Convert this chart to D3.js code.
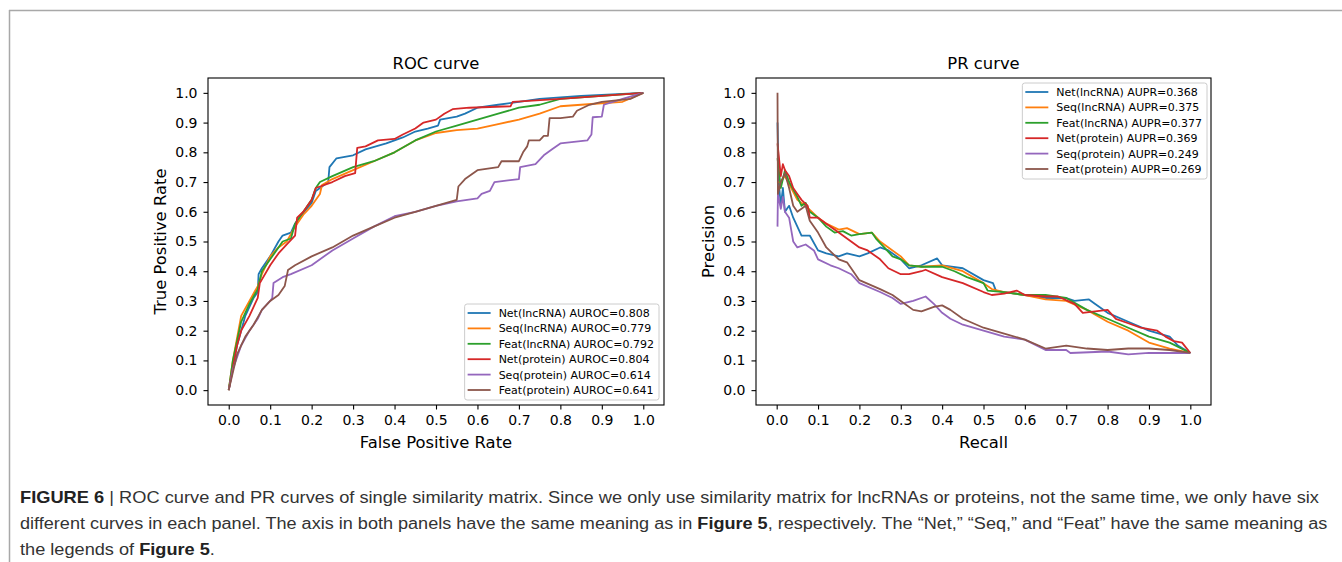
<!DOCTYPE html>
<html>
<head>
<meta charset="utf-8">
<script src="https://cdn.jsdelivr.net/npm/d3@7"></script>
<style>
  body { margin: 0; background: #fff; }
  svg { display: block; }
  .tick text { font-family: "DejaVu Sans", sans-serif; }
</style>
</head>
<body>
<div id="fig"></div>
<script>
// series labels and colours (matplotlib tab10)
const seriesNames = ["Net(lncRNA)", "Seq(lncRNA)", "Feat(lncRNA)", "Net(protein)", "Seq(protein)", "Feat(protein)"];
const seriesColors = ["#1f77b4", "#ff7f0e", "#2ca02c", "#d62728", "#9467bd", "#8c564b"];
const aurocValues = ["0.808", "0.779", "0.792", "0.804", "0.614", "0.641"];
const auprValues = ["0.368", "0.375", "0.377", "0.369", "0.249", "0.269"];
const tickValues = [0, 0.1, 0.2, 0.3, 0.4, 0.5, 0.6, 0.7, 0.8, 0.9, 1.0];

// ROC curves, [fpr, tpr]
const rocNetLnc = [[0,0],[0.01,0.08],[0.02,0.15],[0.03,0.2],[0.04,0.25],[0.05,0.28],[0.06,0.31],[0.07,0.33],[0.072,0.39],[0.08,0.41],[0.1,0.45],[0.12,0.5],[0.13,0.52],[0.15,0.53],[0.16,0.56],[0.17,0.58],[0.2,0.63],[0.21,0.67],[0.23,0.69],[0.24,0.7],[0.243,0.75],[0.26,0.78],[0.3,0.79],[0.33,0.81],[0.38,0.83],[0.42,0.85],[0.45,0.87],[0.48,0.88],[0.505,0.89],[0.51,0.91],[0.55,0.92],[0.57,0.93],[0.6,0.95],[0.65,0.96],[0.7,0.97],[0.75,0.98],[0.85,0.99],[1,1]];
const rocSeqLnc = [[0,0],[0.01,0.1],[0.03,0.25],[0.05,0.3],[0.07,0.35],[0.08,0.39],[0.1,0.45],[0.12,0.48],[0.14,0.5],[0.16,0.55],[0.18,0.59],[0.2,0.62],[0.22,0.66],[0.225,0.69],[0.25,0.71],[0.3,0.74],[0.35,0.77],[0.4,0.8],[0.45,0.84],[0.5,0.865],[0.55,0.875],[0.6,0.88],[0.65,0.895],[0.7,0.91],[0.75,0.93],[0.8,0.955],[0.9,0.965],[0.95,0.97],[1,1]];
const rocFeatLnc = [[0,0],[0.01,0.1],[0.03,0.23],[0.05,0.29],[0.07,0.34],[0.08,0.4],[0.1,0.44],[0.12,0.48],[0.13,0.5],[0.15,0.51],[0.16,0.56],[0.18,0.6],[0.2,0.64],[0.21,0.68],[0.22,0.7],[0.25,0.72],[0.3,0.75],[0.35,0.77],[0.4,0.8],[0.45,0.84],[0.5,0.87],[0.55,0.89],[0.6,0.91],[0.65,0.93],[0.7,0.95],[0.75,0.96],[0.8,0.98],[0.9,0.99],[1,1]];
const rocNetProt = [[0,0],[0.02,0.15],[0.03,0.2],[0.05,0.25],[0.06,0.28],[0.07,0.31],[0.075,0.36],[0.1,0.42],[0.12,0.46],[0.14,0.49],[0.16,0.52],[0.165,0.58],[0.18,0.6],[0.2,0.64],[0.21,0.68],[0.25,0.7],[0.28,0.72],[0.305,0.73],[0.31,0.815],[0.33,0.82],[0.36,0.84],[0.4,0.845],[0.42,0.86],[0.45,0.88],[0.47,0.9],[0.5,0.91],[0.52,0.93],[0.54,0.945],[0.58,0.95],[0.68,0.955],[0.685,0.97],[0.8,0.98],[0.9,0.99],[1,1]];
const rocSeqProt = [[0,0],[0.01,0.07],[0.03,0.15],[0.05,0.2],[0.07,0.24],[0.08,0.27],[0.1,0.3],[0.105,0.31],[0.108,0.36],[0.13,0.38],[0.15,0.39],[0.2,0.42],[0.25,0.47],[0.3,0.51],[0.35,0.55],[0.4,0.585],[0.45,0.6],[0.5,0.62],[0.55,0.635],[0.6,0.645],[0.61,0.66],[0.63,0.67],[0.641,0.7],[0.7,0.71],[0.703,0.75],[0.74,0.76],[0.76,0.79],[0.78,0.81],[0.8,0.83],[0.865,0.84],[0.875,0.86],[0.878,0.918],[0.9,0.92],[0.905,0.96],[0.95,0.98],[1,1]];
const rocFeatProt = [[0,0],[0.02,0.12],[0.04,0.18],[0.06,0.22],[0.08,0.27],[0.1,0.3],[0.12,0.32],[0.135,0.35],[0.143,0.404],[0.16,0.42],[0.2,0.45],[0.25,0.48],[0.3,0.52],[0.35,0.55],[0.4,0.58],[0.45,0.6],[0.5,0.62],[0.55,0.64],[0.554,0.685],[0.57,0.71],[0.6,0.74],[0.65,0.75],[0.658,0.77],[0.7,0.77],[0.71,0.8],[0.72,0.82],[0.724,0.84],[0.75,0.84],[0.76,0.855],[0.77,0.855],[0.774,0.915],[0.8,0.915],[0.83,0.92],[0.84,0.94],[0.87,0.96],[0.9,0.97],[0.97,0.98],[1,1]];

// PR curves, [recall, precision]
const prNetLnc = [[0.002,0.9],[0.005,0.7],[0.01,0.62],[0.015,0.68],[0.02,0.6],[0.03,0.62],[0.04,0.58],[0.05,0.55],[0.06,0.52],[0.08,0.52],[0.1,0.47],[0.12,0.46],[0.15,0.45],[0.17,0.46],[0.2,0.45],[0.22,0.46],[0.25,0.48],[0.27,0.47],[0.3,0.44],[0.32,0.41],[0.35,0.42],[0.388,0.443],[0.4,0.42],[0.45,0.41],[0.5,0.37],[0.523,0.36],[0.53,0.335],[0.55,0.33],[0.6,0.32],[0.65,0.31],[0.7,0.31],[0.72,0.3],[0.755,0.305],[0.77,0.29],[0.8,0.26],[0.85,0.23],[0.9,0.2],[0.95,0.18],[0.97,0.15],[1,0.125]];
const prSeqLnc = [[0.002,0.7],[0.01,0.7],[0.02,0.72],[0.05,0.64],[0.07,0.62],[0.1,0.58],[0.12,0.56],[0.15,0.54],[0.17,0.545],[0.2,0.525],[0.23,0.53],[0.25,0.5],[0.27,0.48],[0.3,0.45],[0.32,0.42],[0.35,0.415],[0.4,0.42],[0.45,0.4],[0.5,0.36],[0.52,0.34],[0.55,0.33],[0.6,0.32],[0.65,0.305],[0.7,0.3],[0.75,0.27],[0.8,0.23],[0.85,0.2],[0.9,0.16],[0.95,0.14],[1,0.125]];
const prFeatLnc = [[0.002,0.78],[0.01,0.68],[0.02,0.74],[0.03,0.7],[0.05,0.65],[0.06,0.62],[0.07,0.63],[0.08,0.6],[0.1,0.58],[0.12,0.55],[0.14,0.53],[0.16,0.535],[0.18,0.52],[0.2,0.525],[0.23,0.53],[0.24,0.51],[0.26,0.48],[0.28,0.45],[0.3,0.44],[0.32,0.42],[0.35,0.415],[0.4,0.415],[0.43,0.4],[0.46,0.38],[0.5,0.36],[0.51,0.335],[0.55,0.33],[0.6,0.32],[0.65,0.32],[0.7,0.31],[0.75,0.27],[0.8,0.24],[0.85,0.21],[0.9,0.18],[0.95,0.16],[1,0.125]];
const prNetProt = [[0.002,0.83],[0.01,0.72],[0.015,0.76],[0.02,0.74],[0.03,0.72],[0.04,0.68],[0.05,0.66],[0.06,0.64],[0.075,0.62],[0.08,0.58],[0.1,0.58],[0.12,0.56],[0.15,0.53],[0.18,0.5],[0.2,0.48],[0.22,0.47],[0.25,0.44],[0.27,0.41],[0.3,0.39],[0.32,0.39],[0.35,0.4],[0.36,0.405],[0.4,0.38],[0.45,0.36],[0.5,0.33],[0.52,0.32],[0.55,0.325],[0.58,0.335],[0.6,0.32],[0.65,0.315],[0.68,0.315],[0.72,0.29],[0.74,0.26],[0.8,0.27],[0.82,0.24],[0.85,0.225],[0.88,0.21],[0.92,0.2],[0.94,0.18],[0.96,0.165],[0.98,0.16],[1,0.125]];
const prSeqProt = [[0.002,0.55],[0.003,0.66],[0.01,0.61],[0.015,0.65],[0.02,0.6],[0.03,0.58],[0.035,0.54],[0.04,0.5],[0.05,0.48],[0.07,0.49],[0.09,0.47],[0.1,0.44],[0.13,0.42],[0.15,0.41],[0.18,0.39],[0.2,0.36],[0.25,0.33],[0.28,0.31],[0.3,0.29],[0.33,0.3],[0.36,0.315],[0.38,0.29],[0.4,0.26],[0.42,0.24],[0.45,0.22],[0.5,0.2],[0.55,0.18],[0.6,0.17],[0.65,0.135],[0.7,0.135],[0.71,0.125],[0.8,0.13],[0.85,0.12],[0.9,0.125],[1,0.125]];
const prFeatProt = [[0.002,1.0],[0.003,0.66],[0.01,0.7],[0.02,0.73],[0.03,0.68],[0.04,0.62],[0.05,0.6],[0.06,0.61],[0.07,0.62],[0.08,0.57],[0.1,0.53],[0.12,0.48],[0.15,0.44],[0.17,0.43],[0.2,0.37],[0.25,0.34],[0.28,0.32],[0.3,0.3],[0.33,0.27],[0.35,0.265],[0.38,0.28],[0.4,0.285],[0.42,0.27],[0.45,0.24],[0.5,0.21],[0.55,0.19],[0.6,0.17],[0.65,0.14],[0.7,0.15],[0.75,0.14],[0.8,0.135],[0.85,0.14],[0.9,0.14],[0.95,0.135],[1,0.125]];

const rocCurves = [rocNetLnc, rocSeqLnc, rocFeatLnc, rocNetProt, rocSeqProt, rocFeatProt];
const prCurves = [prNetLnc, prSeqLnc, prFeatLnc, prNetProt, prSeqProt, prFeatProt];

const W = 1342, H = 562;
const font = '"DejaVu Sans", sans-serif';

const svg = d3.select("#fig").append("svg")
    .attr("width", W)
    .attr("height", H);

// page frame lines
svg.append("line").attr("x1", 9).attr("x2", W).attr("y1", 10.5).attr("y2", 10.5)
    .attr("stroke", "#a8a8a8").attr("stroke-width", 1.5);
svg.append("line").attr("x1", 9.5).attr("x2", 9.5).attr("y1", 10).attr("y2", H)
    .attr("stroke", "#a8a8a8").attr("stroke-width", 1.5);

// draw one panel
function drawPanel(cfg){
    const x = d3.scaleLinear().domain([-0.05, 1.05]).range([cfg.left, cfg.right]);
    const y = d3.scaleLinear().domain([-0.05, 1.05]).range([cfg.bottom, cfg.top]);
    const g = svg.append("g");
    const id = "clip-" + cfg.key;

    svg.append("clipPath").attr("id", id).append("rect")
        .attr("x", cfg.left).attr("y", cfg.top)
        .attr("width", cfg.right - cfg.left).attr("height", cfg.bottom - cfg.top);

    const line = d3.line().x(d => x(d[0])).y(d => y(d[1]));

    g.append("g").attr("clip-path", `url(#${id})`)
        .selectAll("path.curve")
        .data(cfg.curves)
        .join("path")
        .classed("curve", true)
        .attr("d", line)
        .attr("fill", "none")
        .attr("stroke", (d, i) => seriesColors[i])
        .attr("stroke-width", 1.8)
        .attr("stroke-linejoin", "round");

    // axes
    const fmt = d3.format(".1f");
    const xAxis = g.append("g")
        .attr("transform", `translate(0,${cfg.bottom})`)
        .call(d3.axisBottom(x).tickValues(tickValues).tickFormat(fmt).tickSize(4.5).tickPadding(6));
    const yAxis = g.append("g")
        .attr("transform", `translate(${cfg.left},0)`)
        .call(d3.axisLeft(y).tickValues(tickValues).tickFormat(fmt).tickSize(4.5).tickPadding(6));
    [xAxis, yAxis].forEach(a => {
        a.select(".domain").remove();
        a.selectAll(".tick line").attr("stroke", "#000").attr("stroke-width", 1.1);
        a.selectAll(".tick text").attr("fill", "#000").style("font-size", "14px");
    });

    // frame
    g.append("rect")
        .attr("x", cfg.left).attr("y", cfg.top)
        .attr("width", cfg.right - cfg.left).attr("height", cfg.bottom - cfg.top)
        .attr("fill", "none").attr("stroke", "#000").attr("stroke-width", 1.1);

    // title and labels
    const cx = (cfg.left + cfg.right) / 2;
    g.append("text").attr("x", cx).attr("y", 69)
        .attr("text-anchor", "middle").style("font-family", font).style("font-size", "16.4px")
        .text(cfg.title);
    g.append("text").attr("x", cx).attr("y", 448)
        .attr("text-anchor", "middle").style("font-family", font).style("font-size", "16.4px")
        .text(cfg.xLabel);
    g.append("text")
        .attr("transform", `translate(${cfg.left - 42},${(cfg.top + cfg.bottom) / 2}) rotate(-90)`)
        .attr("text-anchor", "middle").style("font-family", font).style("font-size", "16.4px")
        .text(cfg.yLabel);

    // legend
    const rowH = 15.4;
    const padL = 3, textX = 31;
    const leg = g.append("g");
    const box = leg.append("rect")
        .attr("fill", "#fff").attr("fill-opacity", 0.85)
        .attr("stroke", "#cccccc").attr("stroke-width", 1).attr("rx", 2.5);
    const rows = leg.selectAll("g.row")
        .data(seriesNames)
        .join("g").classed("row", true)
        .attr("transform", (d, i) => `translate(0,${i * rowH})`);
    rows.append("line").attr("x1", 0).attr("x2", 23).attr("y1", 0).attr("y2", 0)
        .attr("stroke", (d, i) => seriesColors[i]).attr("stroke-width", 1.8);
    rows.append("text").attr("x", textX).attr("y", 0).attr("dy", "0.36em")
        .style("font-family", font).style("font-size", "11px").attr("fill", "#000")
        .text((d, i) => `${d} ${cfg.metric}=${cfg.values[i]}`);

    let maxW = 0;
    rows.selectAll("text").each(function(){ maxW = Math.max(maxW, this.getComputedTextLength()); });
    const bw = padL + textX + maxW + 5, bh = rowH * 5 + 19;
    const bx = cfg.right - cfg.legendMargin - bw;
    const by = cfg.legendLoc === "lower right" ? cfg.bottom - 5 - bh : cfg.top + 5;
    box.attr("x", -padL).attr("y", -9).attr("width", bw).attr("height", bh);
    leg.attr("transform", `translate(${bx + padL},${by + 9})`);
}

drawPanel({
    key: "roc", left: 208, right: 664, top: 78, bottom: 405,
    curves: rocCurves, title: "ROC curve", xLabel: "False Positive Rate", yLabel: "True Positive Rate",
    metric: "AUROC", values: aurocValues, legendLoc: "lower right", legendMargin: 5
});
drawPanel({
    key: "pr", left: 756, right: 1211, top: 78, bottom: 405,
    curves: prCurves, title: "PR curve", xLabel: "Recall", yLabel: "Precision",
    metric: "AUPR", values: auprValues, legendLoc: "upper right", legendMargin: 4
});

// caption
const captionLines = [
    [["FIGURE 6", true], [" | ROC curve and PR curves of single similarity matrix. Since we only use similarity matrix for lncRNAs or proteins, not the same time, we only have six", false]],
    [["different curves in each panel. The axis in both panels have the same meaning as in ", false], ["Figure 5", true], [", respectively. The \u201CNet,\u201D \u201CSeq,\u201D and \u201CFeat\u201D have the same meaning as", false]],
    [["the legends of ", false], ["Figure 5", true], [".", false]]
];
const captionEnds = [1320, 1328, 215];
const captionBase = [503, 529, 555];

captionLines.forEach((parts, i) => {
    const t = svg.append("text")
        .attr("x", 0).attr("y", 0)
        .style("font-family", '"Liberation Sans Narrow", "Arial Narrow", "Liberation Sans", sans-serif')
        .style("font-size", "16px")
        .attr("fill", "#333");
    parts.forEach(([s, bold]) => {
        t.append("tspan").text(s)
            .attr("font-weight", bold ? "bold" : "normal")
            .attr("fill", bold ? "#222" : "#333");
    });
    const w = t.node().getComputedTextLength();
    const sx = (captionEnds[i] - 20) / w;
    t.attr("transform", `translate(20,${captionBase[i]}) scale(${sx},1)`);
});
</script>
</body>
</html>
